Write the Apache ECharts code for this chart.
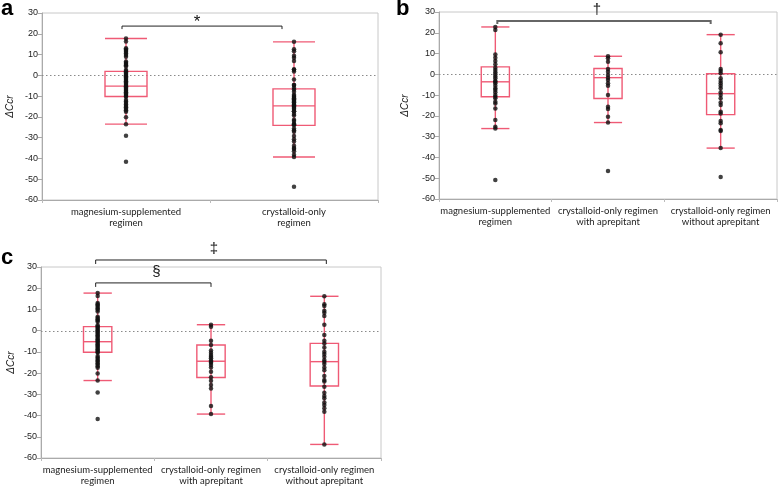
<!DOCTYPE html>
<html>
<head>
<meta charset="utf-8">
<script src="https://cdn.jsdelivr.net/npm/echarts@6/dist/echarts.min.js"></script>
<style>
  html, body { margin: 0; background: #fff; }
  #main { width: 778px; height: 487px; }
</style>
</head>
<body>
<div id="main"></div>
<script>
  // categories
  var cats2 = ['magnesium-supplemented\nregimen', 'crystalloid-only\nregimen']
  var cats3 = ['magnesium-supplemented\nregimen', 'crystalloid-only regimen\nwith aprepitant', 'crystalloid-only regimen\nwithout aprepitant']

  // ΔCcr per patient (panels a and c)
  var magPts = [17.7, 16.3, 13.0, 12.4, 11.8, 11.2, 10.5, 9.8, 9.0, 6.6, 6.0, 5.4, 4.8, 4.2, 2.6, 2.0, 1.4, 0.8, 0.2,
    -0.4, -1.0, -1.6, -2.2, -2.8, -3.4, -4.0, -4.6, -5.2, -5.8, -6.4, -7.0, -7.6, -8.2, -8.8, -9.4, -10.0, -10.3,
    -11.9, -12.6, -13.3, -14.0, -14.7, -15.4, -16.1, -16.8, -17.5, -20.2, -23.5, -29.1, -41.6]
  var cryWithPts = [2.8, 1.9, -4.7, -6.8, -9.4, -10.4, -11.5, -12.3, -13.0, -14.1, -14.6, -15.1, -16.2, -17.3,
    -19.3, -22.0, -23.6, -25.6, -27.2, -35.5, -39.3]
  var cryWithoutPts = [16.2, 12.5, 11.6, 9.4, 8.5, 6.9, 2.8, -2.0, -4.7, -6.0, -7.9, -9.9, -11.0, -12.3, -13.8,
    -14.6, -15.7, -17.3, -18.6, -21.4, -23.3, -24.0, -26.4, -29.2, -30.8, -31.9, -33.9, -35.0, -36.5, -38.2, -53.6]
  var cryAllPts = cryWithPts.concat(cryWithoutPts)

  // ΔCcr per patient (panel b)
  var bMagPts = [22.8, 21.3, 9.6, 8.0, 6.4, 4.8, 3.2, 2.1, 1.0, 0.0, -1.1, -1.9, -3.2, -3.6, -4.3, -5.5, -6.7,
    -7.6, -8.6, -9.9, -10.8, -11.5, -13.2, -14.0, -16.4, -22.0, -25.2, -26.1, -50.9]
  var bWithPts = [8.7, 7.7, 6.1, 2.6, 1.3, -0.3, -1.6, -2.7, -4.3, -5.5, -9.9, -15.6, -16.7, -20.4, -23.2, -46.5]
  var bWithoutPts = [19.1, 14.9, 10.6, 2.6, 1.6, 0.5, -1.9, -3.2, -4.3, -5.5, -6.7, -8.6, -9.9, -11.5, -13.5,
    -14.8, -18.0, -18.9, -22.5, -23.6, -26.8, -27.3, -35.5, -49.4]

  // box stats: [lower whisker, Q1, median, Q3, upper whisker]
  var magBox = [-23.5, -10.2, -5.2, 1.9, 17.7]
  var boxA = [magBox, [-39.3, -24.1, -14.7, -6.5, 16.1]]
  var boxB = [[-26.1, -10.8, -3.6, 3.6, 22.8], [-23.2, -11.6, -1.6, 2.8, 8.7], [-35.5, -19.4, -9.3, 0.3, 19.1]]
  var boxC = [magBox, [-39.3, -22.1, -14.4, -6.75, 2.8], [-53.6, -26.1, -14.6, -6.0, 16.2]]

  // reference line
  var refLevel = [0]

  // significance brackets: [from category, to category, level]
  var bracketsA = [[0, 1, 23.7]]
  var bracketsB = [[0, 2, 25.7]]
  var bracketsC = [[0, 2, 33.3], [0, 1, 22.5]]
  var marksA = ['*']
  var marksB = ['†']
  var marksC = ['‡', '§']

  var RED = '#ef5a75'

  function pts (groups) {
    var out = []
    groups.forEach(function (g, i) {
      g.forEach(function (v) { out.push([i, v]) })
    })
    return out
  }

  function boxItem (params, api) {
    var c = api.value(0)
    var x = api.coord([c, 0])[0]
    var w = api.size([1, 0])[0] * 0.25
    var y = function (k) { return api.coord([c, api.value(k)])[1] }
    var lo = y(1), q1 = y(2), md = y(3), q3 = y(4), hi = y(5)
    var st = { stroke: RED, lineWidth: 1.4, fill: null }
    return {
      type: 'group',
      children: [
        { type: 'line', shape: { x1: x, y1: hi, x2: x, y2: lo }, style: st },
        { type: 'line', shape: { x1: x - w / 2, y1: hi, x2: x + w / 2, y2: hi }, style: st },
        { type: 'line', shape: { x1: x - w / 2, y1: lo, x2: x + w / 2, y2: lo }, style: st },
        { type: 'rect', shape: { x: x - w / 2, y: q3, width: w, height: q1 - q3 }, style: st },
        { type: 'line', shape: { x1: x - w / 2, y1: md, x2: x + w / 2, y2: md }, style: st }
      ]
    }
  }

  function refSeries (idx) {
    return {
      type: 'custom',
      xAxisIndex: idx,
      yAxisIndex: idx,
      z: 1,
      silent: true,
      encode: { y: 0 },
      data: refLevel.map(function (v) { return [v] }),
      renderItem: function (params, api) {
        var cs = params.coordSys
        var y = api.coord([0, api.value(0)])[1]
        return {
          type: 'line',
          shape: { x1: cs.x, y1: Math.round(y) + 0.5, x2: cs.x + cs.width, y2: Math.round(y) + 0.5 },
          style: { stroke: '#8a8a8a', lineWidth: 1, lineDash: [1.5, 2.5] }
        }
      }
    }
  }

  function bracketSeries (idx, list, marks, look) {
    return {
      type: 'custom',
      xAxisIndex: idx,
      yAxisIndex: idx,
      clip: false,
      silent: true,
      z: 5,
      encode: { x: [0, 1], y: 2 },
      data: list,
      renderItem: function (params, api) {
        var n = look.nudge[params.dataIndex]
        var a = api.coord([api.value(0), api.value(2)])
        var b = api.coord([api.value(1), api.value(2)])
        var x1 = a[0] + n[0], x2 = b[0] + n[1], y = a[1]
        return {
          type: 'group',
          children: [
            {
              type: 'polyline',
              shape: { points: [[x1, y + look.drop], [x1, y], [x2, y], [x2, y + look.drop]] },
              style: { stroke: look.color, lineWidth: look.width, fill: null }
            },
            {
              type: 'text',
              style: {
                text: marks[params.dataIndex], x: (x1 + x2) / 2 + look.tx, y: y - look.ty,
                align: 'center', verticalAlign: 'middle', font: look.font, fill: '#111'
              }
            }
          ]
        }
      }
    }
  }

  function boxSeries (idx, boxes) {
    return {
      type: 'custom',
      xAxisIndex: idx,
      yAxisIndex: idx,
      z: 2,
      silent: true,
      encode: { x: 0, y: [1, 2, 3, 4, 5] },
      data: boxes.map(function (b, i) { return [i].concat(b) }),
      renderItem: boxItem
    }
  }

  function dotSeries (idx, groups) {
    return {
      type: 'scatter',
      xAxisIndex: idx,
      yAxisIndex: idx,
      z: 3,
      symbolSize: 4.5,
      itemStyle: { color: '#111' },
      data: pts(groups)
    }
  }

  function yAx (idx, gap) {
    return {
      type: 'value',
      gridIndex: idx,
      min: -60,
      max: 30,
      interval: 10,
      name: 'ΔCcr',
      nameLocation: 'middle',
      nameRotate: 90,
      nameGap: gap,
      nameTextStyle: { fontStyle: 'italic', fontSize: 10, fontFamily: 'Liberation Sans', color: '#222' },
      axisLine: { show: true, lineStyle: { color: '#aaa' } },
      axisTick: { show: true, length: 4, lineStyle: { color: '#aaa' } },
      axisLabel: { fontSize: 9, fontFamily: 'Liberation Sans', color: '#222', margin: 4 },
      splitLine: { show: false }
    }
  }

  function xAx (idx, data) {
    return {
      type: 'category',
      gridIndex: idx,
      data: data,
      axisLine: { show: true, onZero: false, lineStyle: { color: '#aaa' } },
      axisTick: { show: true, length: 3, lineStyle: { color: '#bbb' } },
      axisLabel: { interval: 0, fontSize: 9.5, fontFamily: 'Lato', color: '#222', lineHeight: 11, margin: 6 },
      splitLine: { show: false }
    }
  }

  var gridLook = { show: true, borderColor: '#c8c8c8', borderWidth: 1 }

  var chart = echarts.init(document.getElementById('main'))
  chart.setOption({
    backgroundColor: '#fff',
    animation: false,
    grid: [
      Object.assign({ left: 42, top: 13, width: 336, height: 187 }, gridLook),
      Object.assign({ left: 439, top: 12, width: 338, height: 187 }, gridLook),
      Object.assign({ left: 41, top: 267, width: 340, height: 191 }, gridLook)
    ],
    xAxis: [xAx(0, cats2), xAx(1, cats3), xAx(2, cats3)],
    yAxis: [yAx(0, 27), yAx(1, 29), yAx(2, 25)],
    graphic: [
      { type: 'text', style: { text: 'a', x: 1, y: 9, verticalAlign: 'middle', font: 'bold 22px Liberation Sans', fill: '#000' } },
      { type: 'text', style: { text: 'b', x: 396, y: 9, verticalAlign: 'middle', font: 'bold 22px Liberation Sans', fill: '#000' } },
      { type: 'text', style: { text: 'c', x: 1, y: 258, verticalAlign: 'middle', font: 'bold 22px Liberation Sans', fill: '#000' } }
    ],
    series: [
      refSeries(0),
      boxSeries(0, boxA),
      dotSeries(0, [magPts, cryAllPts]),
      bracketSeries(0, bracketsA, marksA, { nudge: [[-4, -12]], drop: 3, color: '#222', width: 1, tx: -5, ty: 4, font: '17px Liberation Sans' }),
      refSeries(1),
      boxSeries(1, boxB),
      dotSeries(1, [bMagPts, bWithPts, bWithoutPts]),
      bracketSeries(1, bracketsB, marksB, { nudge: [[2, -10]], drop: 3, color: '#666', width: 2, tx: -7, ty: 11, font: '15px Liberation Sans' }),
      refSeries(2),
      boxSeries(2, boxC),
      dotSeries(2, [magPts, cryWithPts, cryWithoutPts]),
      bracketSeries(2, bracketsC, marksC, { nudge: [[-2, 2], [-2, 0]], drop: 4, color: '#222', width: 1, tx: 3, ty: 11, font: '15px Liberation Sans' })
    ]
  })
</script>
</body>
</html>
